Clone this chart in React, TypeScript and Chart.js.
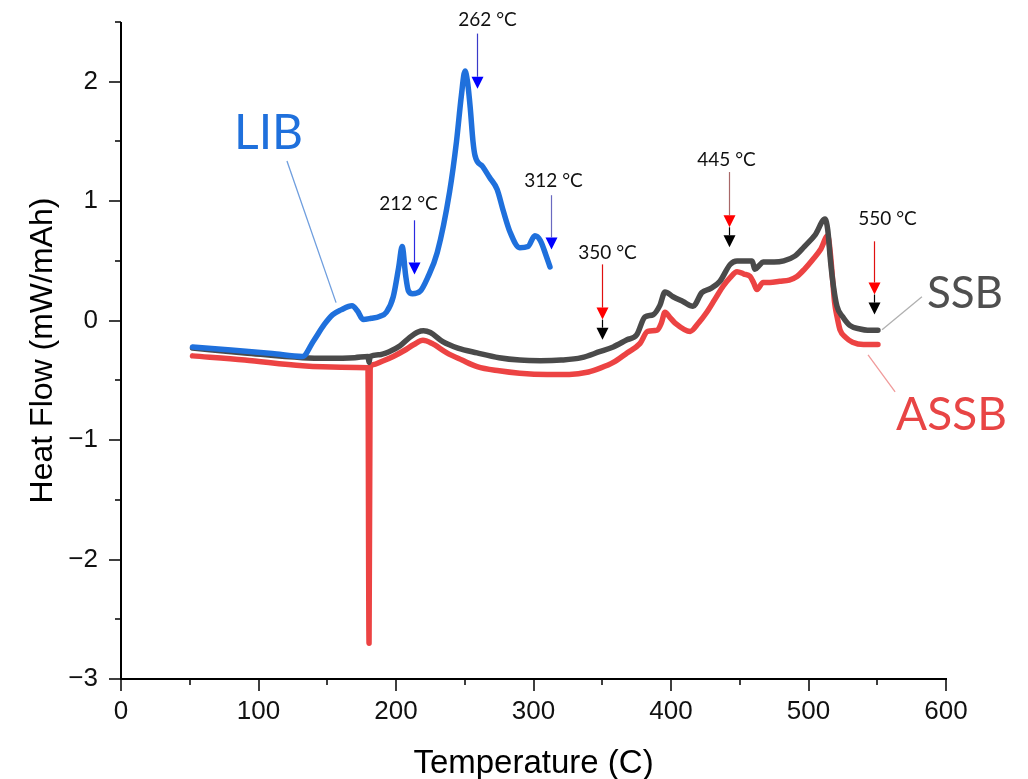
import React, { useEffect, useRef } from 'react';
import { Chart, registerables } from 'chart.js';

Chart.register(...registerables);

// ---------- data (temperature °C, heat flow mW/mAh) ----------
const seriesNames = ['LIB', 'SSB', 'ASSB'];

const libTemp = [52, 80, 110, 132, 140, 148, 154, 160, 168, 172, 176, 182, 188, 193, 198, 202, 204.5, 207, 209, 212, 217.5, 223, 230, 239, 244, 247.5, 250.2, 252, 254, 256, 257.5, 263, 268, 273.5, 278, 283, 290, 296, 301, 305, 309, 312];
const libFlow = [-0.22, -0.245, -0.275, -0.3, -0.17, -0.03, 0.05, 0.09, 0.125, 0.08, 0.01, 0.02, 0.035, 0.07, 0.2, 0.45, 0.62, 0.38, 0.25, 0.225, 0.245, 0.36, 0.57, 1.08, 1.5, 1.88, 2.09, 2.0, 1.78, 1.5, 1.38, 1.29, 1.2, 1.1, 0.92, 0.74, 0.61, 0.62, 0.71, 0.67, 0.55, 0.45];

const ssbTemp = [52, 90, 132, 150, 170, 179.6, 180.4, 181.2, 188, 195, 203, 210, 216, 220, 225, 234, 245, 259, 275, 290, 305, 320, 335, 348, 358, 368, 375, 381, 387, 392, 395.6, 401.5, 408.7, 416, 422.5, 429, 435.6, 443, 448, 453, 459, 461, 464, 467, 475, 482, 490, 497, 505, 512, 514, 516, 518, 520.7, 525, 530, 537.5, 543, 550.5];
const ssbFlow = [-0.23, -0.27, -0.31, -0.315, -0.31, -0.3, -0.35, -0.3, -0.285, -0.26, -0.21, -0.14, -0.095, -0.085, -0.1, -0.176, -0.23, -0.27, -0.31, -0.33, -0.335, -0.33, -0.31, -0.26, -0.22, -0.16, -0.12, 0.03, 0.05, 0.13, 0.24, 0.2, 0.16, 0.12, 0.235, 0.27, 0.33, 0.47, 0.5, 0.5, 0.5, 0.43, 0.46, 0.49, 0.49, 0.5, 0.54, 0.62, 0.72, 0.85, 0.76, 0.5, 0.3, 0.12, 0.03, -0.04, -0.07, -0.08, -0.08];

const assbTemp = [52, 90, 132, 160, 179.6, 180.4, 181.2, 183, 190, 198, 206, 213, 219.6, 226, 237, 248, 259, 275, 290, 310, 326, 340, 348, 358, 368, 377.5, 383, 390, 393, 395.6, 399, 403, 414, 420, 426, 432, 438, 443, 448, 453, 457.5, 460, 462.5, 467, 472, 479, 486, 491.6, 497, 503, 509, 514, 516, 517.5, 519, 521, 523, 527, 532, 540, 550.5];
const assbFlow = [-0.295, -0.33, -0.378, -0.39, -0.395, -2.7, -0.4, -0.37, -0.34, -0.3, -0.25, -0.2, -0.165, -0.19, -0.27, -0.33, -0.385, -0.42, -0.44, -0.45, -0.45, -0.43, -0.4, -0.35, -0.27, -0.19, -0.09, -0.08, -0.02, 0.07, 0.03, -0.02, -0.09, -0.02, 0.07, 0.18, 0.29, 0.36, 0.41, 0.39, 0.37, 0.32, 0.26, 0.32, 0.32, 0.33, 0.34, 0.37, 0.43, 0.51, 0.6, 0.71, 0.55, 0.35, 0.15, 0.02, -0.08, -0.14, -0.18, -0.2, -0.2];

const xMajorTicks = [0, 100, 200, 300, 400, 500, 600];
const xMinorTicks = [50, 150, 250, 350, 450, 550];
const yMajorTicks = [-3, -2, -1, 0, 1, 2];
const yMinorTicks = [-2.5, -1.5, -0.5, 0.5, 1.5, 2.5];

const peakTemps = [212, 262, 312, 350, 445, 550];

// ---------- annotation layout ----------
type Head = { color: string; top: number };
const arrowSpecs: { x: number; dx: number; labelY: number; lineTop: number; lineColor: string; heads: Head[] }[] = [
  { x: 213, dx: -6, labelY: 0.979, lineTop: 0.84, lineColor: '#2a2ae0', heads: [{ color: '#0000ff', top: 0.487 }] },
  { x: 259, dx: 10, labelY: 2.517, lineTop: 2.403, lineColor: '#3a3ac8', heads: [{ color: '#0000ff', top: 2.042 }] },
  { x: 312.5, dx: 2, labelY: 1.168, lineTop: 1.05, lineColor: '#6a6ac0', heads: [{ color: '#0000ff', top: 0.697 }] },
  { x: 349.6, dx: 5, labelY: 0.567, lineTop: 0.471, lineColor: '#e01010', heads: [{ color: '#ff0000', top: 0.109 }, { color: '#000000', top: -0.059 }] },
  { x: 442, dx: -3, labelY: 1.349, lineTop: 1.244, lineColor: '#a86868', heads: [{ color: '#ff0000', top: 0.882 }, { color: '#000000', top: 0.714 }] },
  { x: 547.6, dx: 13, labelY: 0.853, lineTop: 0.664, lineColor: '#e01010', heads: [{ color: '#ff0000', top: 0.319 }, { color: '#000000', top: 0.151 }] },
];

const nameSpecs = [
  { x: 107.3, y: 1.437, size: 48, color: '#1f70dc', lead: [120.7, 1.336, 156.4, 0.151], leadColor: '#6f9ede' },
  { x: 613.8, y: 0.109, size: 44, color: '#4f4f4f', lead: [582.5, 0.2, 553.5, -0.076], leadColor: '#b0b0b0' },
  { x: 604, y: -0.916, size: 46, color: '#e84545', lead: [543.3, -0.286, 563, -0.597], leadColor: '#f09a9a' },
];

const annotPlugin = {
  id: 'annot',
  afterDraw(chart: any) {
    const { ctx, chartArea } = chart;
    const xs = chart.scales.x;
    const ys = chart.scales.y;
    const { left, right, top, bottom } = chartArea;
    ctx.save();
    // axes
    ctx.strokeStyle = '#000';
    ctx.lineWidth = 2;
    ctx.beginPath();
    ctx.moveTo(left, top);
    ctx.lineTo(left, bottom + 1);
    ctx.moveTo(left - 1, bottom);
    ctx.lineTo(right + 1, bottom);
    ctx.stroke();
    ctx.lineWidth = 1.5;
    ctx.beginPath();
    xMajorTicks.forEach((v) => { const p = Math.round(xs.getPixelForValue(v)); ctx.moveTo(p, bottom); ctx.lineTo(p, bottom + 12); });
    xMinorTicks.forEach((v) => { const p = Math.round(xs.getPixelForValue(v)); ctx.moveTo(p, bottom); ctx.lineTo(p, bottom + 6); });
    yMajorTicks.forEach((v) => { const p = Math.round(ys.getPixelForValue(v)); ctx.moveTo(left, p); ctx.lineTo(left - 12, p); });
    yMinorTicks.forEach((v) => { const p = Math.round(ys.getPixelForValue(v)); ctx.moveTo(left, p); ctx.lineTo(left - 6, p); });
    ctx.stroke();

    // arrows
    ctx.font = '19px Lato, "Open Sans", sans-serif';
    ctx.textAlign = 'center';
    ctx.textBaseline = 'middle';
    arrowSpecs.forEach((a, i) => {
      const px = Math.round(xs.getPixelForValue(a.x)) + 0.5;
      ctx.fillStyle = '#111';
      ctx.fillText(`${peakTemps[i]} °C`, px + a.dx, ys.getPixelForValue(a.labelY));
      const y0 = ys.getPixelForValue(a.lineTop);
      const h0 = ys.getPixelForValue(a.heads[0].top);
      ctx.strokeStyle = a.lineColor;
      ctx.lineWidth = 1.2;
      ctx.beginPath();
      ctx.moveTo(px, y0);
      ctx.lineTo(px, h0);
      ctx.stroke();
      a.heads.forEach((h, j) => {
        const ht = ys.getPixelForValue(h.top);
        if (j > 0) {
          const prev = ys.getPixelForValue(a.heads[j - 1].top) + 12;
          ctx.strokeStyle = '#000';
          ctx.beginPath();
          ctx.moveTo(px, prev);
          ctx.lineTo(px, ht);
          ctx.stroke();
        }
        ctx.fillStyle = h.color;
        ctx.beginPath();
        ctx.moveTo(px - 6, ht);
        ctx.lineTo(px + 6, ht);
        ctx.lineTo(px, ht + 12);
        ctx.closePath();
        ctx.fill();
      });
    });

    // series name labels with leader lines
    nameSpecs.forEach((n, i) => {
      ctx.strokeStyle = n.leadColor;
      ctx.lineWidth = 1.3;
      ctx.beginPath();
      ctx.moveTo(xs.getPixelForValue(n.lead[0]), ys.getPixelForValue(n.lead[1]));
      ctx.lineTo(xs.getPixelForValue(n.lead[2]), ys.getPixelForValue(n.lead[3]));
      ctx.stroke();
      ctx.fillStyle = n.color;
      ctx.font = `${n.size}px Lato, "Open Sans", sans-serif`;
      ctx.textAlign = 'center';
      ctx.textBaseline = 'alphabetic';
      ctx.fillText(seriesNames[i], xs.getPixelForValue(n.x), ys.getPixelForValue(n.y));
    });
    ctx.restore();
  },
};

const toPoints = (xs: number[], ys: number[]) => xs.map((x, i) => ({ x, y: ys[i] }));
const minus = (v: number) => (v < 0 ? '\u2212' + Math.abs(v) : String(v));

export default function App() {
  const ref = useRef<HTMLCanvasElement>(null);
  useEffect(() => {
    if (!ref.current) return;
    const axisFont = '"Liberation Sans", Arial, sans-serif';
    const chart = new Chart(ref.current, {
      type: 'line',
      data: {
        datasets: [
          { label: seriesNames[0], data: toPoints(libTemp, libFlow), borderColor: '#1f70dc', borderWidth: 5.5 },
          { label: seriesNames[1], data: toPoints(ssbTemp, ssbFlow), borderColor: '#4a4a4a', borderWidth: 5.5 },
          { label: seriesNames[2], data: toPoints(assbTemp, assbFlow), borderColor: '#ec4343', borderWidth: 5.5 },
        ],
      },
      options: {
        animation: false,
        responsive: false,
        layout: { padding: { left: 0, right: 82, top: 22, bottom: 0 } },
        plugins: { legend: { display: false }, tooltip: { enabled: false } },
        elements: {
          point: { radius: 0 },
          line: { cubicInterpolationMode: 'monotone', borderJoinStyle: 'round', borderCapStyle: 'round', fill: false },
        },
        scales: {
          x: {
            type: 'linear',
            min: 0,
            max: 600,
            ticks: { stepSize: 100, padding: 17, color: '#111', font: { family: axisFont, size: 26 }, maxRotation: 0 },
            grid: { display: false, drawTicks: false },
            border: { display: false },
            title: { display: true, text: 'Temperature (C)', color: '#000', font: { family: axisFont, size: 33 }, padding: { top: 0, bottom: -5 } },
            afterFit: (s: any) => { s.height = 100; s.paddingLeft = 0; s.paddingRight = 0; },
          },
          y: {
            type: 'linear',
            min: -3,
            max: 2.5,
            ticks: { stepSize: 1, padding: 23, color: '#111', font: { family: axisFont, size: 26 }, callback: (v: any) => minus(Number(v)) },
            afterBuildTicks: (s: any) => { s.ticks = s.ticks.filter((t: any) => Number.isInteger(t.value)); },
            grid: { display: false, drawTicks: false },
            border: { display: false },
            title: { display: true, text: 'Heat Flow (mW/mAh)', color: '#000', font: { family: axisFont, size: 32 }, padding: { top: 24, bottom: 0 } },
            afterFit: (s: any) => { s.width = 121; s.paddingTop = 0; s.paddingBottom = 0; },
          },
        },
      } as any,
      plugins: [annotPlugin],
    });
    return () => chart.destroy();
  }, []);
  return (
    <div style={{ position: 'absolute', left: 0, top: 0, width: 1028, height: 779, background: '#fff' }}>
      <canvas ref={ref} width={1028} height={779} />
    </div>
  );
}
